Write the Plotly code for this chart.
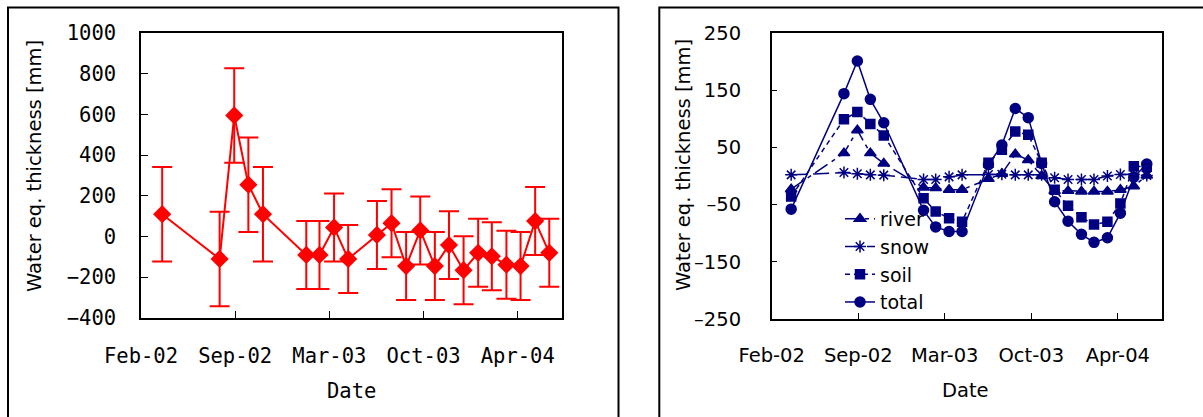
import plotly.graph_objects as go

W, H = 1203, 417

# ---------------- data ----------------
dates = ["2002-04-01", "2002-08-01", "2002-09-01", "2002-10-01", "2002-11-01",
         "2003-02-01", "2003-03-01", "2003-04-01", "2003-05-01", "2003-07-01",
         "2003-08-01", "2003-09-01", "2003-10-01", "2003-11-01", "2003-12-01",
         "2004-01-01", "2004-02-01", "2004-03-01", "2004-04-01", "2004-05-01",
         "2004-06-01", "2004-07-01"]

left_values = [110, -110, 595, 255, 110, -90, -90, 45, -110, 8, 66, -145,
               30, -145, -42, -165, -80, -97, -138, -145, 76, -80]
left_errors = [232, 232, 232, 232, 232, 167, 167, 167, 167, 167, 167, 167,
               167, 167, 167, 167, 167, 167, 167, 167, 167, 167]

river = [-23, 40, 80, 40, 22, -20, -21, -24, -24, -5, 4, 38, 28, 0,
         -26, -26, -27, -27, -27, -24, -18, 1]
snow = [2, 6, 4, 2, 1.5, -6, -6, -1.5, 2, 2.5, 3, 2, 2, 2,
        -3, -6, -6, -6, 0, 2.5, 3, 1]
soil = [-36, 99, 112, 91, 71, -39, -62, -74, -80, 23, 46, 78, 72, 23,
        -24, -52, -72, -85, -80, -48, 17, 16]
total = [-58, 144, 201, 134, 93, -60, -89, -97, -97, 20, 54, 118, 102, 22,
         -45, -79, -102, -116, -108, -65, -2, 21]

tick_dates = ["2002-02-15", "2002-09-03", "2003-03-22", "2003-10-08", "2004-04-25"]
tick_labels = ["Feb-02", "Sep-02", "Mar-03", "Oct-03", "Apr-04"]

left_yticks = [-400, -200, 0, 200, 400, 600, 800, 1000]
right_yticks = [-250, -150, -50, 50, 150, 250]
right_ylabels = ["\u2013250", "\u2013150", "\u201350", "50", "150", "250"]

ytitle = "Water eq. thickness [mm]"
xtitle = "Date"

# ---------------- styles ----------------
MONO = "DejaVu Sans Mono"
SANS = "DejaVu Sans"
RED = "#ff0000"
NAVY = "#000080"

fig = go.Figure()

fig.add_trace(go.Scatter(
    x=dates, y=left_values, mode="lines+markers",
    line=dict(color=RED, width=2),
    marker=dict(symbol="diamond", size=14, color=RED),
    error_y=dict(type="data", array=left_errors, visible=True,
                 color=RED, thickness=2, width=10),
    showlegend=False, xaxis="x", yaxis="y"))

series = [
    ("river", river, "triangle-up", 10, "15px,5px,4px,5px"),
    ("snow", snow, "asterisk-open", 10, "16px,6px"),
    ("soil", soil, "square", 9, "5px,4px"),
    ("total", total, "circle", 10, "solid"),
]
for name, vals, sym, size, dash in series:
    fig.add_trace(go.Scatter(
        x=dates, y=vals, mode="lines+markers", name=name, legendgroup=name,
        line=dict(color=NAVY, width=1.5, dash=dash),
        marker=dict(symbol=sym, size=size, color=NAVY,
                    line=dict(color=NAVY, width=1.5)),
        xaxis="x2", yaxis="y2"))

def px_x(p):
    return p / W

def px_y(p):
    return 1 - p / H

axis_common = dict(showline=True, mirror=True, linecolor="black", linewidth=1.5,
                   ticks="inside", tickcolor="black", tickwidth=1,
                   showgrid=False, zeroline=False, automargin=False)

fig.update_layout(
    width=W, height=H, autosize=False,
    margin=dict(l=0, r=0, t=0, b=0),
    paper_bgcolor="white", plot_bgcolor="white",
    xaxis=dict(domain=[px_x(141), px_x(562)], type="date",
               range=["2002-02-15", "2004-07-28"],
               tickmode="array", tickvals=tick_dates, ticktext=tick_labels,
               ticklen=7, ticklabelstandoff=19,
               tickfont=dict(family=MONO, size=20.5, color="black"),
               anchor="y", **axis_common),
    yaxis=dict(domain=[px_y(318), px_y(33)], range=[-400, 1000],
               tickmode="array", tickvals=left_yticks,
               ticklen=7, ticklabelstandoff=19,
               tickfont=dict(family=MONO, size=20.5, color="black"),
               anchor="x", **axis_common),
    xaxis2=dict(domain=[px_x(771.7), px_x(1161.5)], type="date",
                range=["2002-02-15", "2004-08-04"],
                tickmode="array", tickvals=tick_dates, ticktext=tick_labels,
                ticklen=6, ticklabelstandoff=18,
                tickfont=dict(family=SANS, size=19.5, color="black"),
                anchor="y2", **axis_common),
    yaxis2=dict(domain=[px_y(319), px_y(33)], range=[-250, 250],
                tickmode="array", tickvals=right_yticks, ticktext=right_ylabels,
                ticklen=6, ticklabelstandoff=25,
                tickfont=dict(family=SANS, size=19.5, color="black"),
                anchor="x2", **axis_common),
    legend=dict(x=px_x(840), y=px_y(200), xanchor="left", yanchor="top",
                bgcolor="rgba(0,0,0,0)", borderwidth=0,
                font=dict(family=SANS, size=19, color="black"),
                tracegroupgap=3, traceorder="normal"),
    shapes=[
        dict(type="rect", xref="paper", yref="paper",
             x0=px_x(8), x1=px_x(618.5), y0=-0.05, y1=px_y(7.5),
             line=dict(color="black", width=2)),
        dict(type="rect", xref="paper", yref="paper",
             x0=px_x(659.3), x1=1.05, y0=-0.05, y1=px_y(7.5),
             line=dict(color="black", width=2)),
    ],
    annotations=[
        dict(text=ytitle, xref="paper", yref="paper", x=px_x(34), y=px_y(166),
             textangle=-90, showarrow=False, xanchor="center", yanchor="middle",
             font=dict(family=SANS, size=19.5, color="black")),
        dict(text=ytitle, xref="paper", yref="paper", x=px_x(683), y=px_y(165),
             textangle=-90, showarrow=False, xanchor="center", yanchor="middle",
             font=dict(family=SANS, size=19.5, color="black")),
        dict(text=xtitle, xref="paper", yref="paper", x=px_x(351), y=px_y(391),
             showarrow=False, xanchor="center", yanchor="middle",
             font=dict(family=MONO, size=20.5, color="black")),
        dict(text=xtitle, xref="paper", yref="paper", x=px_x(966), y=px_y(390),
             showarrow=False, xanchor="center", yanchor="middle",
             font=dict(family=SANS, size=19.5, color="black")),
    ],
)

fig.write_html("out.html")
